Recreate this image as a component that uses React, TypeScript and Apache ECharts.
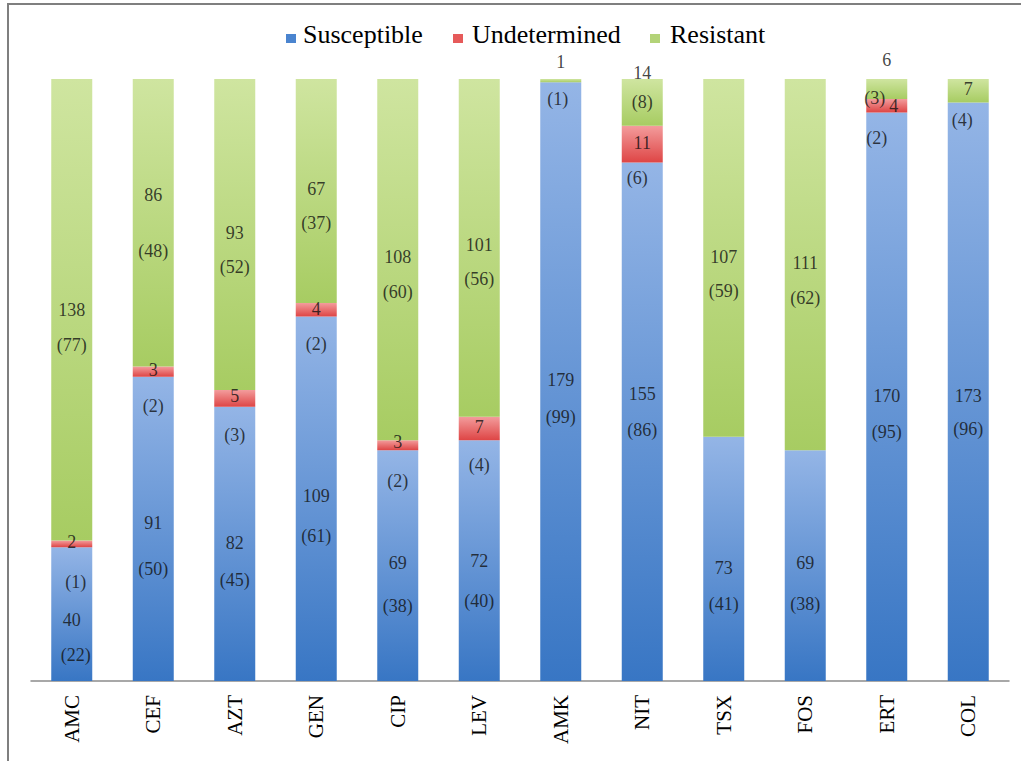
import React, { useEffect, useRef } from "react";
import * as echarts from "echarts";

const categories = ["AMC", "CEF", "AZT", "GEN", "CIP", "LEV", "AMK", "NIT", "TSX", "FOS", "ERT", "COL"];
const seriesNames = ["Susceptible", "Undetermined", "Resistant"];
const susceptible = [40, 91, 82, 109, 69, 72, 179, 155, 73, 69, 170, 173];
const undetermined = [2, 3, 5, 4, 3, 7, 0, 11, 0, 0, 4, 0];
const resistant = [138, 86, 93, 67, 108, 101, 1, 14, 107, 111, 6, 7];
const susceptiblePct = [22, 50, 45, 61, 38, 40, 99, 86, 41, 38, 95, 96];
const undeterminedPct = [1, 2, 3, 2, 2, 4, null, 6, null, null, 2, null];
const resistantPct = [77, 48, 52, 37, 60, 56, 1, 8, 59, 62, 3, 4];

// label placement (px, relative to segment centre): [dxCount, dyCount, dxPct, dyPct] for S, U, R
const labelLayout: number[][][] = [
  [[0, 6, 4, 41], [0, -2, 4, 38], [0, 0, 0, 35]],
  [[0, -6, 0, 40], [0, -2, 0, 34], [0, -28, 0, 28]],
  [[0, -1, 0, 36], [0, -2, 0, 37], [0, -2, 0, 32]],
  [[0, -3, 0, 37], [0, -1, 0, 34], [0, -2, 0, 32]],
  [[0, -3, 0, 40], [0, -3, 0, 36], [0, -3, 0, 32]],
  [[0, 0, 0, 40], [0, -1, 0, 37], [0, -3, 0, 31]],
  [[0, -2, 0, 35], [0, 0, 0, 0], [0, -19, -3, 18]],
  [[0, -28, 0, 8], [0, -1, -5, 34], [0, -29, 0, 0]],
  [[0, 9, 0, 45], [0, 0, 0, 0], [0, -1, 0, 33]],
  [[0, -3, 0, 38], [0, 0, 0, 0], [0, -2, 0, 33]],
  [[0, -1, 0, 35], [7, 0, -10, 32], [0, -29, -12, 9]],
  [[0, 4, 0, 37], [0, 0, 0, 0], [0, -2, -6, 29]],
];

// legend layout (px)
const legendIconX = [286, 453, 650];
const legendTextX = [303, 472, 670];

const FONT = "Liberation Serif";

function grad(top: string, bottom: string) {
  return new echarts.graphic.LinearGradient(0, 0, 0, 1, [
    { offset: 0, color: top },
    { offset: 1, color: bottom },
  ]);
}

export default function App() {
  const ref = useRef<HTMLDivElement>(null);
  useEffect(() => {
    if (!ref.current) return;
    const chart = echarts.init(ref.current, undefined, { renderer: "svg" });
    const values = [susceptible, undetermined, resistant];
    const pcts = [susceptiblePct, undeterminedPct, resistantPct];
    const fills = [
      grad("#94b5e6", "#3876c4"),
      grad("#f39c9c", "#de4545"),
      grad("#cfe5a0", "#a7cc62"),
    ];
    const legendColors = ["#4a84cf", "#e65a5a", "#b3d378"];

    const labelData: any[] = [];
    categories.forEach((_, i) => {
      let base = 0;
      for (let s = 0; s < 3; s++) {
        const v = values[s][i];
        const mid = base + v / 2;
        base += v;
        if (!v) continue;
        const [dxc, dyc, dxp, dyp] = labelLayout[i][s];
        labelData.push({ value: [i, mid], label: { formatter: String(v), offset: [dxc, dyc] } });
        const p = pcts[s][i];
        if (p !== null && p !== undefined) {
          labelData.push({ value: [i, mid], label: { formatter: `(${p})`, offset: [dxp, dyp] } });
        }
      }
    });

    const barSeries = seriesNames.map((name, s) => ({
      name,
      type: "bar",
      stack: "total",
      barWidth: 41,
      data: values[s],
      itemStyle: { color: fills[s] },
    }));

    const legendGraphics: any[] = [];
    seriesNames.forEach((n, s) => {
      legendGraphics.push({
        type: "rect",
        silent: true,
        shape: { x: legendIconX[s], y: 34, width: 10, height: 9 },
        style: { fill: legendColors[s] },
      });
      legendGraphics.push({
        type: "text",
        silent: true,
        x: legendTextX[s],
        y: 34,
        style: {
          text: n,
          fontFamily: FONT,
          fontSize: 26,
          fill: "#000",
          verticalAlign: "middle",
          align: "left",
        },
      });
    });

    chart.setOption({
      animation: false,
      backgroundColor: "#ffffff",
      textStyle: { fontFamily: FONT },
      graphic: [
        {
          type: "rect",
          silent: true,
          z: -10,
          shape: { x: 8, y: 4, width: 1040, height: 800 },
          style: { fill: "none", stroke: "#7f7f7f", lineWidth: 2 },
        },
        ...legendGraphics,
      ],
      legend: { show: false },
      grid: { left: 31, right: 12, top: 79, bottom: 80 },
      xAxis: {
        type: "category",
        data: categories,
        axisLine: { lineStyle: { color: "#8c8c8c", width: 1.5 } },
        axisTick: { show: false },
        axisLabel: {
          rotate: 90,
          margin: 14,
          fontFamily: FONT,
          fontSize: 21,
          color: "#000",
        },
      },
      yAxis: {
        type: "value",
        min: 0,
        max: 180,
        show: false,
        splitLine: { show: false },
      },
      series: [
        ...barSeries,
        {
          name: "labels",
          type: "scatter",
          silent: true,
          z: 10,
          symbolSize: 1,
          itemStyle: { color: "rgba(0,0,0,0)" },
          label: {
            show: true,
            position: "inside",
            fontFamily: FONT,
            fontSize: 18,
            color: "#111",
          },
          data: labelData,
        },
      ],
    });
    return () => chart.dispose();
  }, []);
  return (
    <div
      ref={ref}
      style={{ position: "absolute", left: 0, top: 0, width: 1021, height: 761 }}
    />
  );
}
